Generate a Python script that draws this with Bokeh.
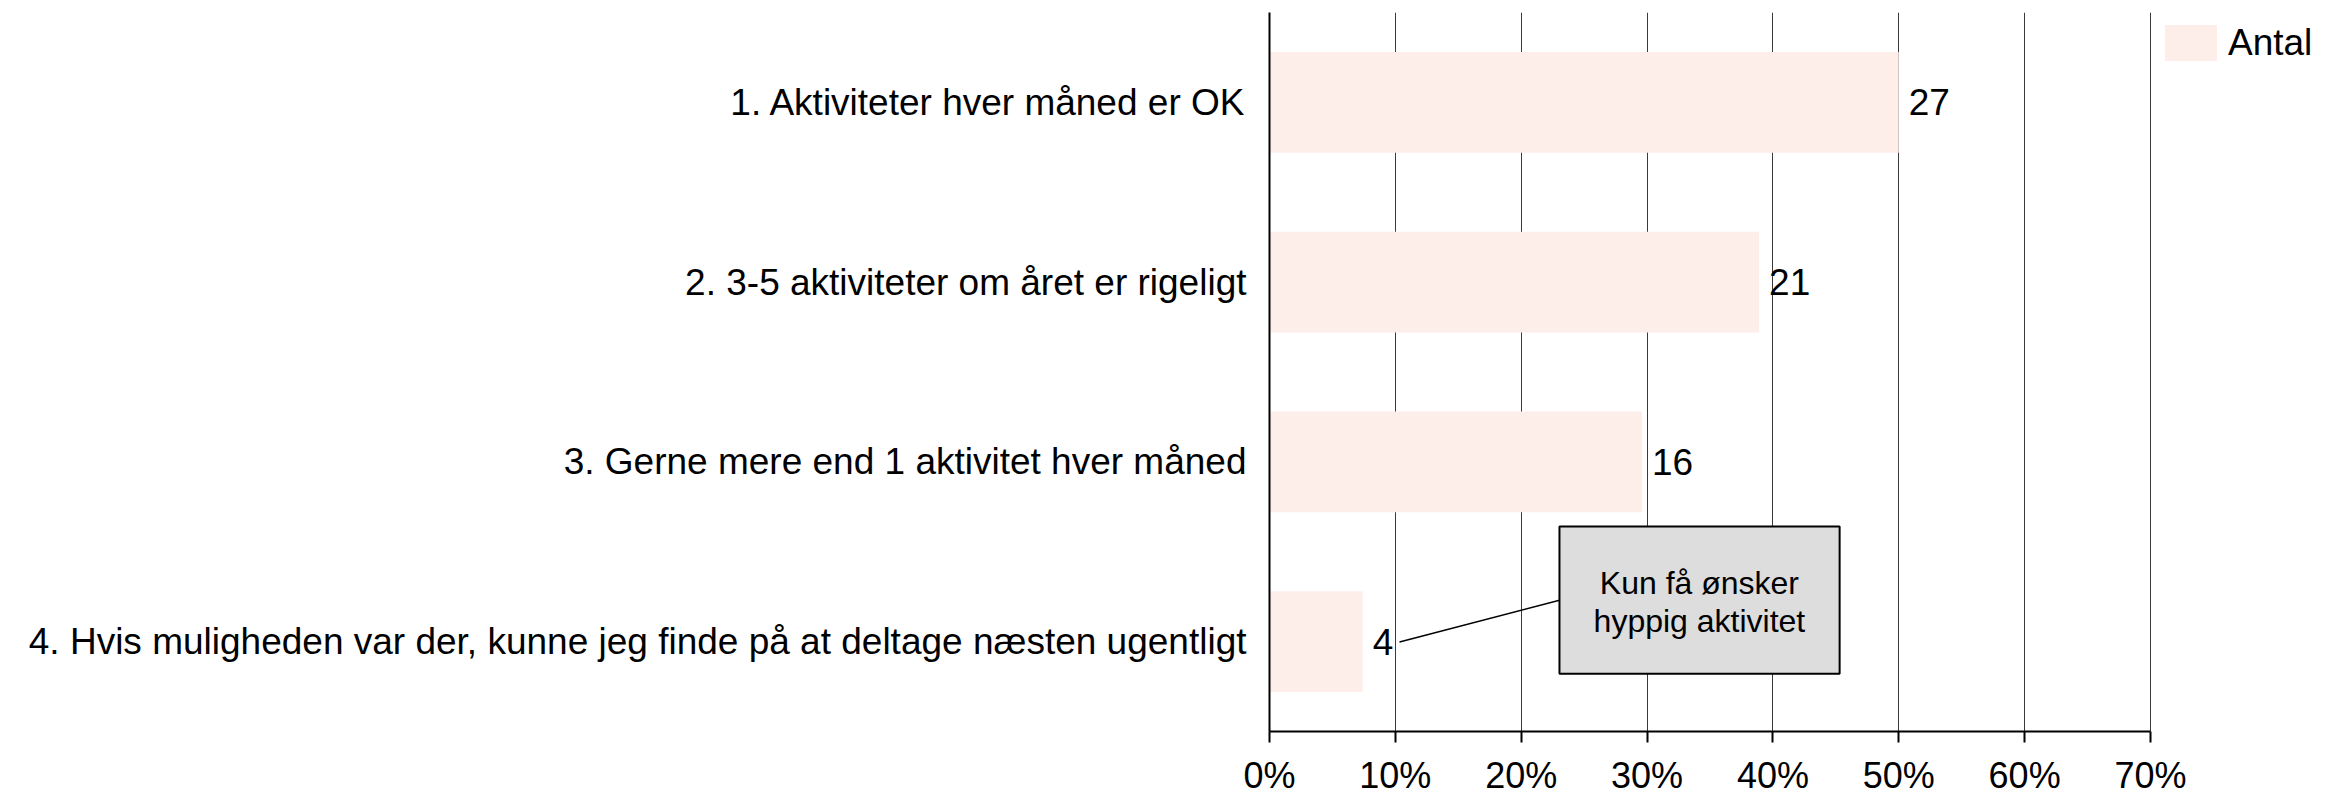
from bokeh.plotting import figure
from bokeh.models import FactorRange, Range1d, FixedTicker, Legend, LegendItem, ColumnDataSource
from bokeh.core.properties import value
from bokeh.embed import file_html
from bokeh.resources import INLINE

# ---- data -------------------------------------------------------------
categories = [
    "1. Aktiviteter hver måned er OK",
    "2. 3-5 aktiviteter om året er rigeligt",
    "3. Gerne mere end 1 aktivitet hver måned",
    "4. Hvis muligheden var der, kunne jeg finde på at deltage næsten ugentligt",
]
counts = [27, 21, 16, 4]                     # "Antal" labels
shares = [0.500, 0.389, 0.296, 0.074]        # bar length (share of respondents)
series_name = "Antal"
tick_values = [0.0, 0.1, 0.2, 0.3, 0.4, 0.5, 0.6, 0.7]
tick_labels = ["0%", "10%", "20%", "30%", "40%", "50%", "60%", "70%"]
note_lines = ["Kun få ønsker", "hyppig aktivitet"]

FONT_NAME = "Liberation Sans"
FONT = value(FONT_NAME)
BAR_COLOR = "#fdeeea"

src = ColumnDataSource(dict(cat=categories, share=shares,
                            label=[str(c) for c in counts]))

# frame runs to the right edge so the legend can sit inside it;
# the x axis itself is bounded to 0..70 %
p = figure(
    width=2336, height=798,
    y_range=FactorRange(factors=list(reversed(categories))),
    x_range=Range1d(0, 0.8478),
    output_backend="svg", toolbar_location=None, tools="",
    min_border_left=1269, min_border_right=0,
    min_border_top=12, min_border_bottom=63,
    background_fill_color="white", border_fill_color="white",
)
p.outline_line_color = None

bars = p.hbar(y="cat", right="share", left=0, height=0.56, source=src,
              fill_color=BAR_COLOR, line_color=None)

p.text(x="share", y="cat", text="label", source=src, x_offset=10,
       text_align="left", text_baseline="middle",
       text_font=FONT, text_font_size="37px", text_color="black")

# ---- callout ----------------------------------------------------------
p.quad(left=[0.2304], right=[0.453], bottom=[0.321], top=[1.140],
       fill_color="#dcdddc", line_color="black", line_width=2)
p.line(x=[0.1033, 0.2304], y=[0.498, 0.730], line_color="black", line_width=1.6)
p.text(x=[0.3416, 0.3416], y=[0.824, 0.614], text=note_lines,
       text_align="center", text_baseline="middle",
       text_font=FONT, text_font_size="32px", text_color="black")

# ---- axes -------------------------------------------------------------
xa = p.xaxis[0]
xa.bounds = (0, 0.7)
xa.ticker = FixedTicker(ticks=tick_values)
xa.major_label_overrides = {t: l for t, l in zip(tick_values, tick_labels)}
xa.axis_line_color = "black"
xa.axis_line_width = 2
xa.major_tick_out = 11
xa.major_tick_in = 0
xa.major_tick_line_color = "black"
xa.major_tick_line_width = 2
xa.minor_tick_line_color = None
xa.major_label_standoff = 12
xa.major_label_text_font = FONT_NAME
xa.major_label_text_font_size = "36px"
xa.major_label_text_color = "black"

ya = p.yaxis[0]
ya.axis_line_color = "black"
ya.axis_line_width = 2
ya.major_tick_out = 0
ya.major_tick_in = 0
ya.major_tick_line_color = None
ya.minor_tick_line_color = None
ya.major_label_standoff = 23
ya.major_label_text_font = FONT_NAME
ya.major_label_text_font_size = "37px"
ya.major_label_text_color = "black"

p.xgrid.ticker = FixedTicker(ticks=tick_values)
p.xgrid.grid_line_color = "#3a3a3a"
p.xgrid.grid_line_width = 1
p.ygrid.grid_line_color = None

# ---- legend -----------------------------------------------------------
legend = Legend(items=[LegendItem(label=series_name, renderers=[bars])],
                location=(889, 666), glyph_width=65, glyph_height=45,
                label_standoff=5, label_text_font=FONT_NAME,
                label_text_font_size="37px", label_text_color="black",
                padding=0, margin=0, spacing=0,
                border_line_color=None, background_fill_alpha=0)
p.add_layout(legend)

open("out.html", "w").write(file_html(p, INLINE))
